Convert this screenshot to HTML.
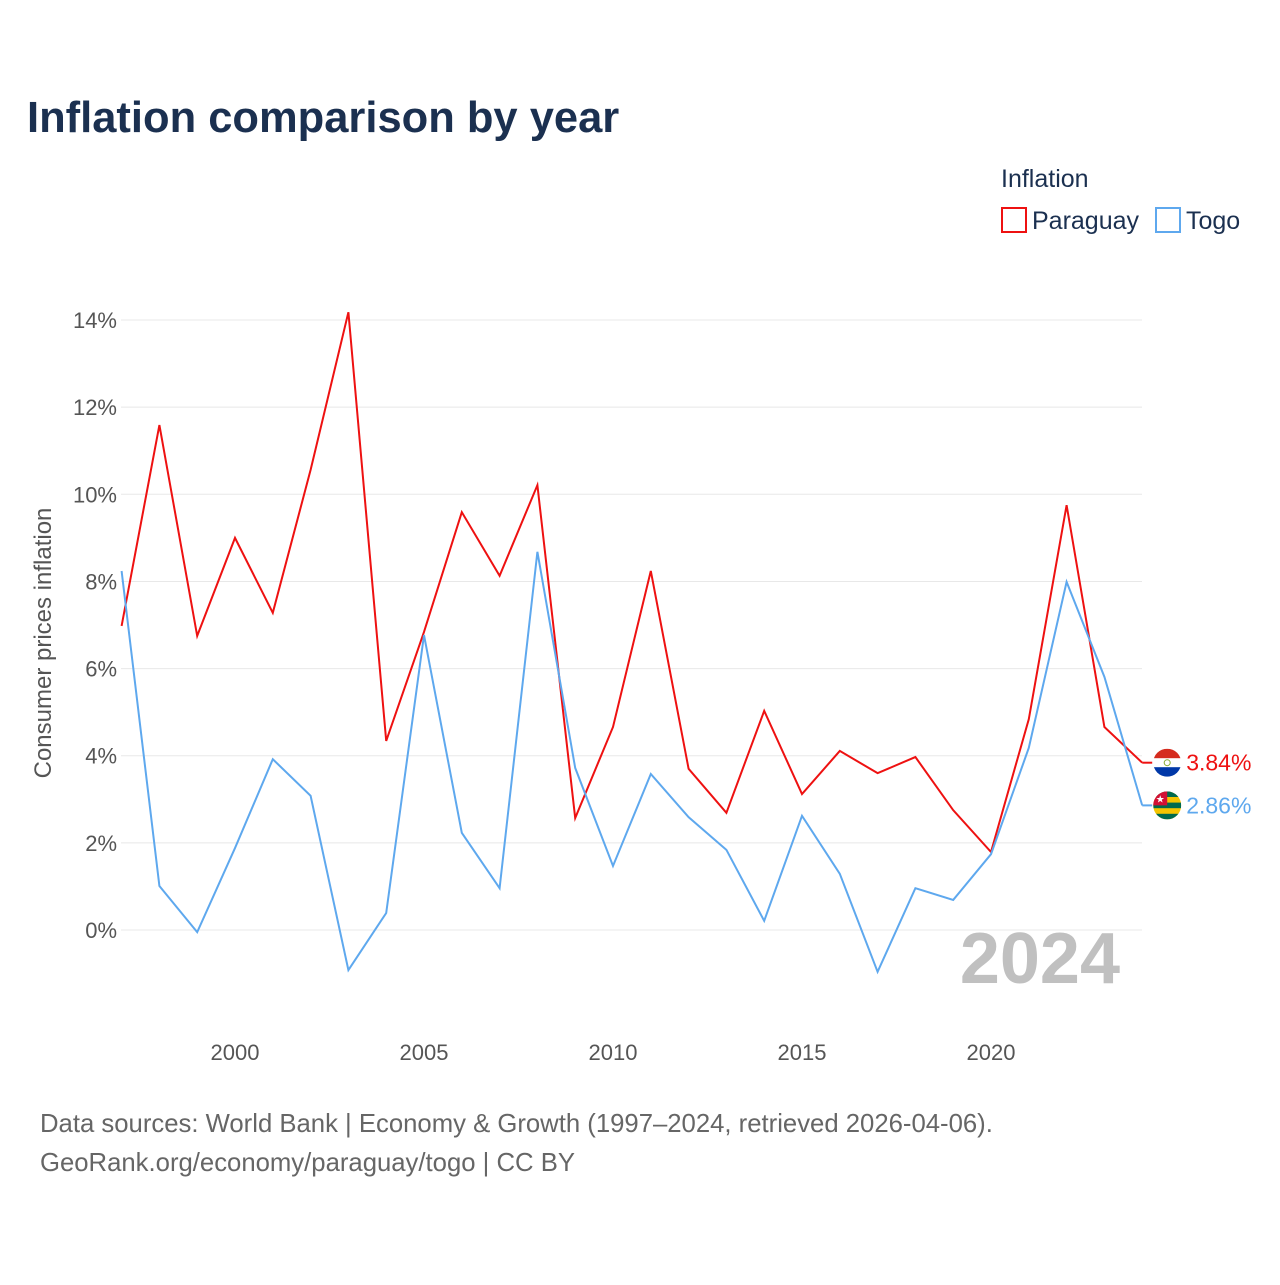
<!DOCTYPE html>
<html><head><meta charset="utf-8"><style>
body{margin:0;width:1280px;height:1280px;background:#fff;font-family:"Liberation Sans",sans-serif;}
</style></head><body>
<svg width="1280" height="1280" xmlns="http://www.w3.org/2000/svg">
<defs>
<clipPath id="cpy"><circle id="cpyc" cx="0" cy="0" r="14"/></clipPath>
<clipPath id="ctg"><circle id="ctgc" cx="0" cy="0" r="14"/></clipPath>
</defs>
<text x="27" y="132" font-size="43.5" font-weight="bold" fill="#1b3050">Inflation comparison by year</text>
<g>
<text x="1001" y="187" font-size="25" fill="#1b3050">Inflation</text>
<g><rect x="1002" y="208" width="24" height="24" fill="none" stroke="#ee1111" stroke-width="2"/><text x="1032" y="229" font-size="25" fill="#1b3050">Paraguay</text></g>
<g><rect x="1156" y="208" width="24" height="24" fill="none" stroke="#5ea8ee" stroke-width="2"/><text x="1186" y="229" font-size="25" fill="#1b3050">Togo</text></g>
</g>
<g id="grid"></g>
<g id="yticks"></g>
<g id="xticks"></g>
<text transform="translate(51,643) rotate(-90)" text-anchor="middle" font-size="24" fill="#555">Consumer prices inflation</text>
<text x="1120" y="983" text-anchor="end" font-size="72" font-weight="bold" fill="#c0c0c0">2024</text>
<g id="series"></g>
<text x="40" y="1132" font-size="25.7" fill="#666">Data sources: World Bank | Economy &amp; Growth (1997–2024, retrieved 2026-04-06).</text>
<text x="40" y="1171" font-size="25.7" fill="#666">GeoRank.org/economy/paraguay/togo | CC BY</text>
</svg>
<script>
const years=[1997,1998,1999,2000,2001,2002,2003,2004,2005,2006,2007,2008,2009,2010,2011,2012,2013,2014,2015,2016,2017,2018,2019,2020,2021,2022,2023,2024];
const paraguay=[6.98,11.59,6.75,9.0,7.28,10.56,14.18,4.34,6.84,9.59,8.13,10.21,2.57,4.66,8.24,3.70,2.69,5.03,3.12,4.11,3.60,3.97,2.75,1.79,4.84,9.75,4.66,3.84];
const togo=[8.24,1.01,-0.05,1.88,3.92,3.08,-0.92,0.39,6.77,2.23,0.96,8.68,3.72,1.47,3.58,2.59,1.84,0.21,2.62,1.29,-0.96,0.96,0.69,1.74,4.18,7.99,5.81,2.86];
const yTicks=[0,2,4,6,8,10,12,14];
const xTicks=[2000,2005,2010,2015,2020];
const NS="http://www.w3.org/2000/svg";
const X=y=>235+(y-2000)*37.8;
const Y=v=>930-v*43.57;
function mk(t,a,p){const e=document.createElementNS(NS,t);for(const k in a)e.setAttribute(k,a[k]);p.appendChild(e);return e;}
const grid=document.getElementById('grid'),yt=document.getElementById('yticks'),xt=document.getElementById('xticks'),ser=document.getElementById('series');
yTicks.forEach(v=>{
 const l=mk('line',{x1:121,x2:1142,y1:Y(v),y2:Y(v),stroke:'#e8e8e8','stroke-width':1},grid);
 
 
 const t=mk('text',{x:117,y:Y(v)+8,'text-anchor':'end','font-size':22,fill:'#555'},yt);
 t.textContent=v+'%';
 
 
});
xTicks.forEach(v=>{
 const t=mk('text',{x:X(v),y:1060,'text-anchor':'middle','font-size':22,fill:'#555'},xt);
 t.textContent=v;
 
 
});
function line(vals,col,name){
 const pts=vals.map((v,i)=>X(years[i])+','+Y(v)).join(' ');
 const p=mk('polyline',{points:pts,fill:'none',stroke:col,'stroke-width':2},ser);
 
 
}
line(paraguay,'#ee1111','paraguay');
line(togo,'#5ea8ee','togo');
function endLabel(vals,col,name,flag){
 const v=vals[vals.length-1],x=X(years[years.length-1]),y=Y(v);
 const g=mk('g',{},ser);
 
 
 mk('line',{x1:x,x2:x+10,y1:y,y2:y,stroke:col,'stroke-width':2},g);
 const cx=x+25;
 const c=document.getElementById(flag==='py'?'cpyc':'ctgc');
 c.setAttribute('cx',cx);c.setAttribute('cy',y);
 const f=mk('g',{'clip-path':flag==='py'?'url(#cpy)':'url(#ctg)'},g);
 if(flag==='py'){
  mk('rect',{x:cx-14,y:y-14,width:28,height:28,fill:'#fff'},f);
  mk('rect',{x:cx-14,y:y-14,width:28,height:9.5,fill:'#d52b1e'},f);
  mk('rect',{x:cx-14,y:y+4.5,width:28,height:9.5,fill:'#0038a8'},f);
  mk('circle',{cx:cx,cy:y,r:3,fill:'none',stroke:'#8a3'},f);
 }else{
  mk('rect',{x:cx-14,y:y-14,width:28,height:28,fill:'#f5c400'},f);
  [-14,-2.8,8.4].forEach(d=>mk('rect',{x:cx-14,y:y+d,width:28,height:5.6,fill:'#006a4e'},f));
  mk('rect',{x:cx-14,y:y-14,width:14,height:14,fill:'#d21034'},f);
  mk('text',{x:cx-7,y:y-3,'text-anchor':'middle','font-size':10,fill:'#fff'},f).textContent='★';
 }
 const t=mk('text',{x:x+44,y:y+8,'font-size':23,fill:col},g);
 t.textContent=v.toFixed(2)+'%';
}
endLabel(paraguay,'#ee1111','paraguay','py');
endLabel(togo,'#5ea8ee','togo','tg');
</script>
</body></html>
